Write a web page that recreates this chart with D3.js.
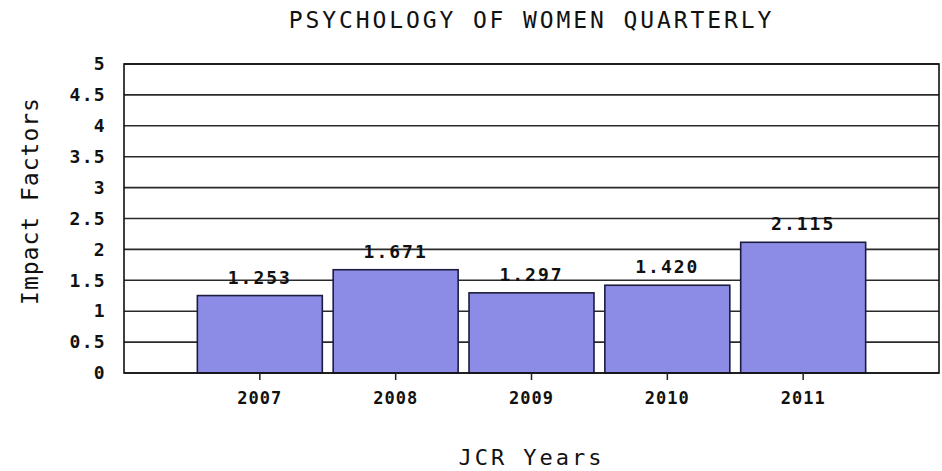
<!DOCTYPE html>
<html>
<head>
<meta charset="utf-8">
<script src="https://cdn.jsdelivr.net/npm/d3@7"></script>
<style>
  body { margin: 0; background: #fff; }
  text { font-family: "DejaVu Sans Mono", monospace; fill: #111; }
</style>
</head>
<body>
<div id="chart"></div>
<script>
// données
const years = ["2007", "2008", "2009", "2010", "2011"];
const impactFactors = [1.253, 1.671, 1.297, 1.420, 2.115];
const yTicks = [0, 0.5, 1, 1.5, 2, 2.5, 3, 3.5, 4, 4.5, 5];
const chartTitle = "PSYCHOLOGY OF WOMEN QUARTERLY";
const xTitle = "JCR Years";
const yTitle = "Impact Factors";

const W = 942, H = 471;
const plot = { left: 124, right: 939, top: 64, bottom: 373 };

const svg = d3.select("#chart")
    .append("svg")
    .attr("width", W)
    .attr("height", H);

const data = years.map((y, i) => ({ year: y, value: impactFactors[i] }));

// échelles
const x = d3.scaleBand()
    .domain(years)
    .range([plot.left, plot.right])
    .paddingInner(0.08)
    .paddingOuter(0.54);

const y = d3.scaleLinear()
    .domain([0, 5])
    .range([plot.bottom, plot.top]);

// grille
svg.append("g")
    .selectAll("line")
    .data(yTicks)
    .enter()
    .append("line")
    .attr("x1", plot.left)
    .attr("x2", plot.right)
    .attr("y1", d => y(d))
    .attr("y2", d => y(d))
    .attr("stroke", "#2a2a2a")
    .attr("stroke-width", 1.6);

// barres
svg.selectAll(".bar")
    .data(data)
    .enter()
    .append("rect")
    .attr("class", "bar")
    .attr("x", d => x(d.year))
    .attr("y", d => y(d.value))
    .attr("width", x.bandwidth())
    .attr("height", d => y(0) - y(d.value))
    .attr("fill", "#8c8ce6")
    .attr("stroke", "#1c1c3c")
    .attr("stroke-width", 1.6);

// cadre
svg.append("rect")
    .attr("x", plot.left)
    .attr("y", plot.top)
    .attr("width", plot.right - plot.left)
    .attr("height", plot.bottom - plot.top)
    .attr("fill", "none")
    .attr("stroke", "#111")
    .attr("stroke-width", 1.6);

// étiquettes de valeur
svg.selectAll(".val")
    .data(data)
    .enter()
    .append("text")
    .attr("class", "val")
    .attr("x", d => x(d.year) + x.bandwidth() / 2)
    .attr("y", d => y(d.value) - 12)
    .attr("text-anchor", "middle")
    .style("font-size", "18px")
    .style("font-weight", "bold")
    .style("letter-spacing", "2px")
    .text(d => d3.format(".3f")(d.value));

// axe X
const xAxis = svg.append("g")
    .attr("transform", `translate(0,${plot.bottom})`)
    .call(d3.axisBottom(x).tickSize(7).tickPadding(12));
xAxis.select(".domain").remove();
xAxis.selectAll("line").attr("stroke", "#222").attr("stroke-width", 1.5);
xAxis.selectAll("text")
    .style("font-family", "DejaVu Sans Mono, monospace")
    .style("font-size", "17px")
    .style("font-weight", "bold")
    .style("letter-spacing", "1px")
    .attr("fill", "#111");

// axe Y
const yAxis = svg.append("g")
    .attr("transform", `translate(${plot.left},0)`)
    .call(d3.axisLeft(y).tickValues(yTicks).tickSize(0).tickPadding(18)
        .tickFormat(d => String(d)));
yAxis.select(".domain").remove();
yAxis.selectAll("text")
    .style("font-family", "DejaVu Sans Mono, monospace")
    .style("font-size", "18px")
    .style("font-weight", "bold")
    .style("letter-spacing", "1.3px")
    .attr("fill", "#111");

// titres
svg.append("text")
    .attr("x", (plot.left + plot.right) / 2)
    .attr("y", 28)
    .attr("text-anchor", "middle")
    .style("font-size", "23px")
    .style("letter-spacing", "2.9px")
    .text(chartTitle);

svg.append("text")
    .attr("x", (plot.left + plot.right) / 2)
    .attr("y", 465)
    .attr("text-anchor", "middle")
    .style("font-size", "22px")
    .style("letter-spacing", "3px")
    .text(xTitle);

svg.append("text")
    .attr("transform", `translate(38,201) rotate(-90)`)
    .attr("text-anchor", "middle")
    .style("font-size", "23px")
    .style("letter-spacing", "1px")
    .text(yTitle);
</script>
</body>
</html>
